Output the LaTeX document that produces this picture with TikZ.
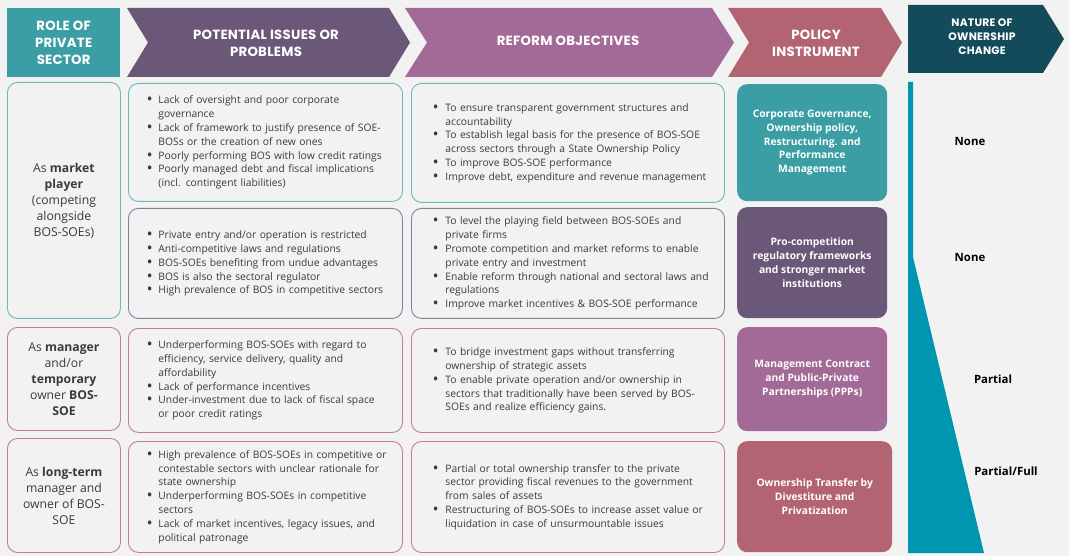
\documentclass[tikz,border=0pt]{standalone}
\usepackage{fontspec}
\setmainfont{Open Sans}
\newfontfamily\hdfont{Poppins}[LetterSpace=2]
\definecolor{bgc}{HTML}{F2F2F2}
\definecolor{cTeal}{HTML}{3A9EA4}
\definecolor{cPurp}{HTML}{6B5777}
\definecolor{cMauve}{HTML}{A46A97}
\definecolor{cRose}{HTML}{B36473}
\definecolor{cDark}{HTML}{134B5B}
\definecolor{cWedge}{HTML}{0096AF}
\definecolor{bTeal}{HTML}{6AB9BC}
\definecolor{bPurp}{HTML}{8E7C9C}
\definecolor{bRose}{HTML}{C47D8B}
\definecolor{txtc}{HTML}{3A3A3A}
\newcommand\bl{\makebox[11pt][l]{\fontsize{12.5}{12}\selectfont\textbf{\textbullet}}}
\newcommand\blr{\makebox[12pt][l]{\fontsize{12.5}{12}\selectfont\textbf{\textbullet}}}
\begin{document}
\begin{tikzpicture}[x=1pt,y=-1pt,
  hd/.style={text=white,font=\hdfont\bfseries\fontsize{13.3}{17}\selectfont,align=center,inner sep=0pt},
  box/.style={draw,rounded corners=10pt,line width=0.9pt,fill=bgc,anchor=north west},
  body/.style={box,align=left,inner ysep=0pt,text=txtc,font=\fontsize{10.3}{13.8}\selectfont},
  role/.style={box,align=center,inner sep=0pt,text=txtc,font=\fontsize{12.2}{16}\selectfont},
  pol/.style={rounded corners=10pt,anchor=north west,align=center,inner sep=0pt,text=white,font=\bfseries\fontsize{10.3}{13.8}\selectfont},
  lab/.style={font=\bfseries\fontsize{11.4}{13}\selectfont,text=black,inner sep=0pt}]
\useasboundingbox (0,0) rectangle (1069,556);
\fill[bgc] (0,0) rectangle (1069,556);

% ---------- header ----------
\node[hd,fill=cTeal,minimum width=113pt,minimum height=69pt,anchor=north west] (h1) at (7,8) {ROLE OF\\PRIVATE\\SECTOR};
\fill[cPurp] (127,8) -- (389,8) -- (410,42.5) -- (389,77) -- (127,77) -- (148,42.5) -- cycle;
\node[hd] (h2) at (266,43) {POTENTIAL ISSUES OR\\PROBLEMS};
\fill[cMauve] (405,8) -- (712,8) -- (734,42.5) -- (712,77) -- (405,77) -- (427,42.5) -- cycle;
\node[hd] (h3) at (568,41) {REFORM OBJECTIVES};
\fill[cRose] (728,8) -- (881,8) -- (902,42.5) -- (881,77) -- (728,77) -- (749,42.5) -- cycle;
\node[hd] (h4) at (816,43) {POLICY\\INSTRUMENT};
\fill[cDark] (908,5) -- (1043,5) -- (1064,39) -- (1043,73) -- (908,73) -- cycle;
\node[hd,font=\hdfont\bfseries\fontsize{10.8}{14}\selectfont] (h5) at (982,37) {NATURE OF\\OWNERSHIP\\CHANGE};

% ---------- role column ----------
\node[role,draw=bTeal,minimum width=113pt,minimum height=236pt] (r1) at (7,82)
  {As \textbf{market}\\\textbf{player}\\(competing\\alongside\\BOS-SOEs)};
\node[role,draw=bRose,minimum width=113pt,minimum height=103pt] (r2) at (7,327)
  {As \textbf{manager}\\and/or\\\textbf{temporary}\\owner \textbf{BOS-}\\\textbf{SOE}};
\node[role,draw=bRose,minimum width=113pt,minimum height=114pt] (r3) at (7,438)
  {As \textbf{long-term}\\manager and\\owner of BOS-\\SOE};

% ---------- issues column ----------
\node[body,draw=bTeal,inner xsep=19pt,text width=236pt,minimum height=118pt] (i1) at (128,83) {%
\begin{tabular}{@{}l@{}l@{}}
\bl & Lack of oversight and poor corporate\\
 & governance\\
\bl & Lack of framework to justify presence of SOE-\\
 & BOSs or the creation of new ones\\
\bl & Poorly performing BOS with low credit ratings\\
\bl & Poorly managed debt and fiscal implications\\
 & (incl. contingent liabilities)
\end{tabular}};
\node[body,draw=bPurp,inner xsep=19pt,text width=236pt,minimum height=110pt] (i2) at (128,208) {%
\begin{tabular}{@{}l@{}l@{}}
\bl & Private entry and/or operation is restricted\\
\bl & Anti-competitive laws and regulations\\
\bl & BOS-SOEs benefiting from undue advantages\\
\bl & BOS is also the sectoral regulator\\
\bl & High prevalence of BOS in competitive sectors
\end{tabular}};
\node[body,draw=bRose,inner xsep=19pt,text width=236pt,minimum height=104pt] (i3) at (128,328) {%
\begin{tabular}{@{}l@{}l@{}}
\bl & Underperforming BOS-SOEs with regard to\\
 & efficiency, service delivery, quality and\\
 & affordability\\
\bl & Lack of performance incentives\\
\bl & Under-investment due to lack of fiscal space\\
 & or poor credit ratings
\end{tabular}};
\node[body,draw=bRose,inner xsep=19pt,text width=236pt,minimum height=111pt] (i4) at (128,441) {%
\begin{tabular}{@{}l@{}l@{}}
\bl & High prevalence of BOS-SOEs in competitive or\\
 & contestable sectors with unclear rationale for\\
 & state ownership\\
\bl & Underperforming BOS-SOEs in competitive\\
 & sectors\\
\bl & Lack of market incentives, legacy issues, and\\
 & political patronage
\end{tabular}};

% ---------- reform column ----------
\node[body,draw=bTeal,inner xsep=22pt,text width=269pt,minimum height=119pt] (o1) at (411,83) {%
\begin{tabular}{@{}l@{}l@{}}
\blr & To ensure transparent government structures and\\
 & accountability\\
\blr & To establish legal basis for the presence of BOS-SOE\\
 & across sectors through a State Ownership Policy\\
\blr & To improve BOS-SOE performance\\
\blr & Improve debt, expenditure and revenue management
\end{tabular}};
\node[body,draw=bPurp,inner xsep=22pt,text width=269pt,minimum height=110pt] (o2) at (411,208) {%
\begin{tabular}{@{}l@{}l@{}}
\blr & To level the playing field between BOS-SOEs and\\
 & private firms\\
\blr & Promote competition and market reforms to enable\\
 & private entry and investment\\
\blr & Enable reform through national and sectoral laws and\\
 & regulations\\
\blr & Improve market incentives \& BOS-SOE performance
\end{tabular}};
\node[body,draw=bRose,inner xsep=22pt,text width=269pt,minimum height=104pt] (o3) at (411,328) {%
\begin{tabular}{@{}l@{}l@{}}
\blr & To bridge investment gaps without transferring\\
 & ownership of strategic assets\\
\blr & To enable private operation and/or ownership in\\
 & sectors that traditionally have been served by BOS-\\
 & SOEs and realize efficiency gains.
\end{tabular}};
\node[body,draw=bRose,inner xsep=22pt,text width=269pt,minimum height=111pt] (o4) at (411,441) {%
\begin{tabular}{@{}l@{}l@{}}
\blr & Partial or total ownership transfer to the private\\
 & sector providing fiscal revenues to the government\\
 & from sales of assets\\
\blr & Restructuring of BOS-SOEs to increase asset value or\\
 & liquidation in case of unsurmountable issues
\end{tabular}};

% ---------- policy column ----------
\node[pol,fill=cTeal,minimum width=150pt,minimum height=117pt] (p1) at (737,84)
  {Corporate Governance,\\Ownership policy,\\Restructuring. and\\Performance\\Management};
\node[pol,fill=cPurp,minimum width=150pt,minimum height=111pt] (p2) at (737,207)
  {Pro-competition\\regulatory frameworks\\and stronger market\\institutions};
\node[pol,fill=cMauve,minimum width=150pt,minimum height=104pt] (p3) at (737,327)
  {Management Contract\\and Public-Private\\Partnerships (PPPs)};
\node[pol,fill=cRose,minimum width=155pt,minimum height=111pt] (p4) at (737,441)
  {Ownership Transfer by\\Divestiture and\\Privatization};

% ---------- wedge and labels ----------
\fill[cWedge] (908,82) -- (913,82) -- (913,257) -- (984,553) -- (908,553) -- cycle;
\node[lab] (n1) at (970,141) {None};
\node[lab] (n2) at (970,257) {None};
\node[lab] (n3) at (993,379) {Partial};
\node[lab] (n4) at (1006,471) {Partial/Full};
\end{tikzpicture}
\end{document}
